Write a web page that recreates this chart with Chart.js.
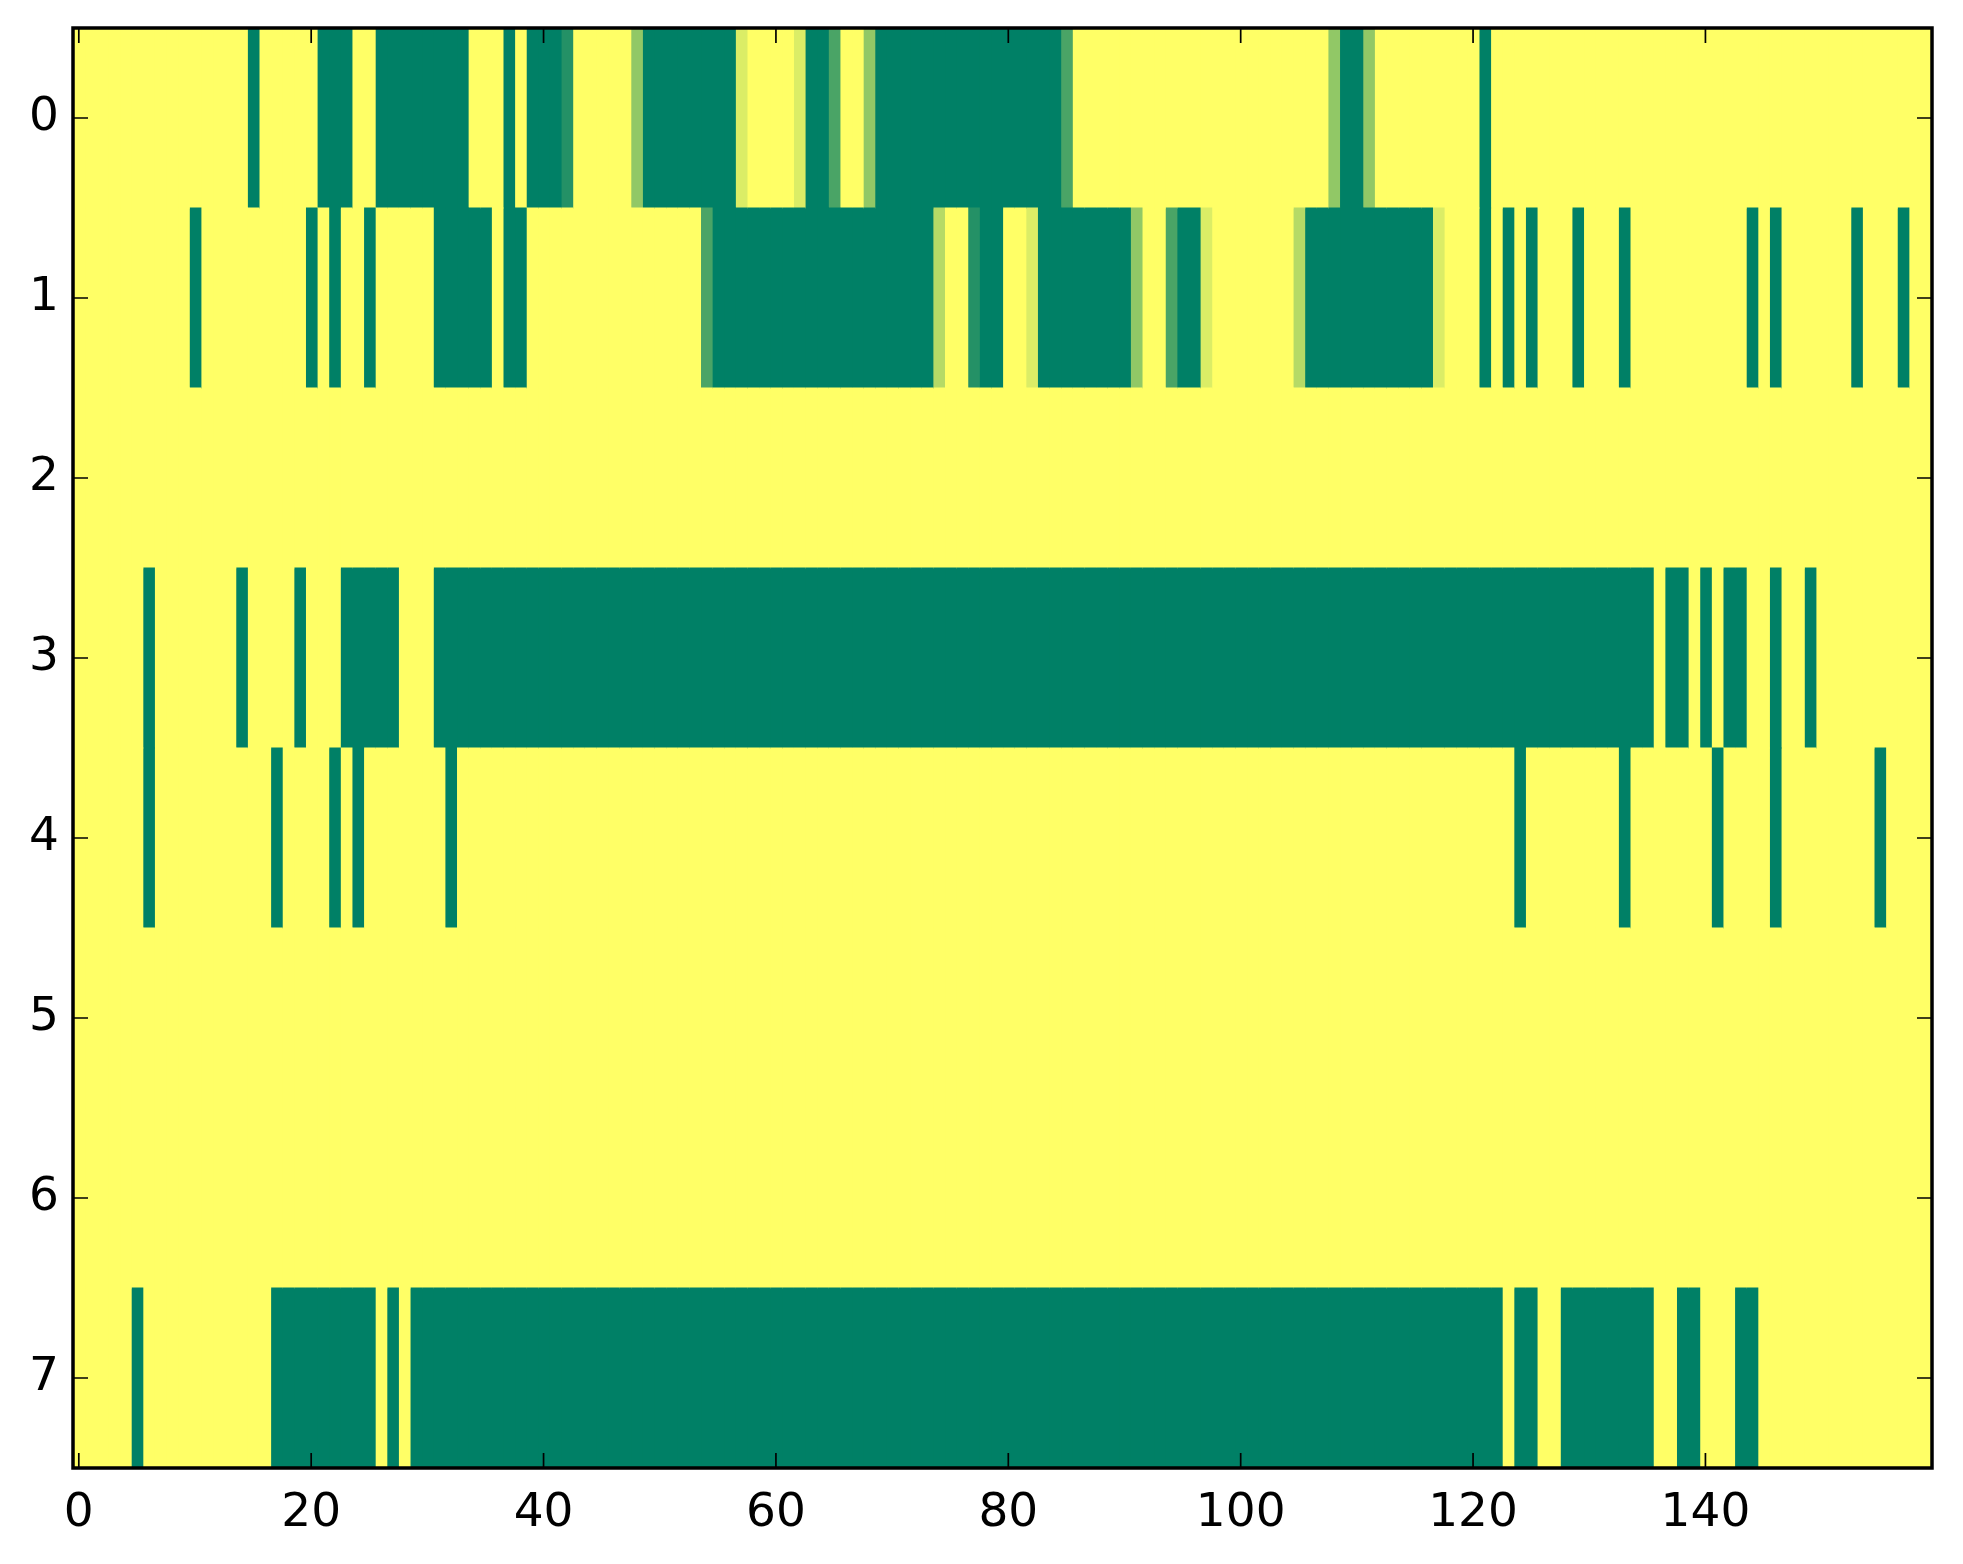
<!DOCTYPE html>
<html>
<head>
<meta charset="utf-8">
<title>Heatmap</title>
<script src="https://cdn.jsdelivr.net/npm/chart.js@4.4.1/dist/chart.umd.min.js"></script>
<style>
  html, body { margin: 0; padding: 0; background: #fff; }
  #wrap { width: 1963px; height: 1564px; }
</style>
</head>
<body>
<div id="wrap"><canvas id="heat" width="1963" height="1564"></canvas></div>
<script>
// row labels (top to bottom) and x tick labels
var rowLabels = ['0', '1', '2', '3', '4', '5', '6', '7'];
var xTicks = [0, 20, 40, 60, 80, 100, 120, 140];

// cell values per row, 160 columns each (0 = green, 1 = yellow)
var row0 = [
    1,1,1,1,1, 1,1,1,1,1, 1,1,1,1,1, 0,1,1,1,1,
    1,0,0,0,1, 1,0,0,0,0, 0,0,0,0,1, 1,1,0,1,0,
    0,0,0.14,1,1, 1,1,1,0.57,0, 0,0,0,0,0, 0,0,0.86,1,1,
    1,1,0.86,0,0, 0.29,1,1,0.57,0, 0,0,0,0,0, 0,0,0,0,0,
    0,0,0,0,0, 0.29,1,1,1,1, 1,1,1,1,1, 1,1,1,1,1,
    1,1,1,1,1, 1,1,1,0.57,0, 0,0.57,1,1,1, 1,1,1,1,1,
    1,0,1,1,1, 1,1,1,1,1, 1,1,1,1,1, 1,1,1,1,1,
    1,1,1,1,1, 1,1,1,1,1, 1,1,1,1,1, 1,1,1,1,1
];
var row1 = [
    1,1,1,1,1, 1,1,1,1,1, 0,1,1,1,1, 1,1,1,1,1,
    0,1,0,1,1, 0,1,1,1,1, 1,0,0,0,0, 0,1,0,0,1,
    1,1,1,1,1, 1,1,1,1,1, 1,1,1,1,0.29, 0,0,0,0,0,
    0,0,0,0,0, 0,0,0,0,0, 0,0,0,0,0.71, 1,1,0.14,0,0,
    1,1,0.86,0,0, 0,0,0,0,0, 0,0.57,1,1,0.29, 0,0,0.86,1,1,
    1,1,1,1,1, 0.71,0,0,0,0, 0,0,0,0,0, 0,0,0.86,1,1,
    1,0,1,0,1, 0,1,1,1,0, 1,1,1,0,1, 1,1,1,1,1,
    1,1,1,1,0, 1,0,1,1,1, 1,1,1,0,1, 1,1,0,1,1
];
var row2 = [
    1,1,1,1,1, 1,1,1,1,1, 1,1,1,1,1, 1,1,1,1,1,
    1,1,1,1,1, 1,1,1,1,1, 1,1,1,1,1, 1,1,1,1,1,
    1,1,1,1,1, 1,1,1,1,1, 1,1,1,1,1, 1,1,1,1,1,
    1,1,1,1,1, 1,1,1,1,1, 1,1,1,1,1, 1,1,1,1,1,
    1,1,1,1,1, 1,1,1,1,1, 1,1,1,1,1, 1,1,1,1,1,
    1,1,1,1,1, 1,1,1,1,1, 1,1,1,1,1, 1,1,1,1,1,
    1,1,1,1,1, 1,1,1,1,1, 1,1,1,1,1, 1,1,1,1,1,
    1,1,1,1,1, 1,1,1,1,1, 1,1,1,1,1, 1,1,1,1,1
];
var row3 = [
    1,1,1,1,1, 1,0,1,1,1, 1,1,1,1,0, 1,1,1,1,0,
    1,1,1,0,0, 0,0,0,1,1, 1,0,0,0,0, 0,0,0,0,0,
    0,0,0,0,0, 0,0,0,0,0, 0,0,0,0,0, 0,0,0,0,0,
    0,0,0,0,0, 0,0,0,0,0, 0,0,0,0,0, 0,0,0,0,0,
    0,0,0,0,0, 0,0,0,0,0, 0,0,0,0,0, 0,0,0,0,0,
    0,0,0,0,0, 0,0,0,0,0, 0,0,0,0,0, 0,0,0,0,0,
    0,0,0,0,0, 0,0,0,0,0, 0,0,0,0,0, 0,1,0,0,1,
    0,1,0,0,1, 1,0,1,1,0, 1,1,1,1,1, 1,1,1,1,1
];
var row4 = [
    1,1,1,1,1, 1,0,1,1,1, 1,1,1,1,1, 1,1,0,1,1,
    1,1,0,1,0, 1,1,1,1,1, 1,1,0,1,1, 1,1,1,1,1,
    1,1,1,1,1, 1,1,1,1,1, 1,1,1,1,1, 1,1,1,1,1,
    1,1,1,1,1, 1,1,1,1,1, 1,1,1,1,1, 1,1,1,1,1,
    1,1,1,1,1, 1,1,1,1,1, 1,1,1,1,1, 1,1,1,1,1,
    1,1,1,1,1, 1,1,1,1,1, 1,1,1,1,1, 1,1,1,1,1,
    1,1,1,1,0, 1,1,1,1,1, 1,1,1,0,1, 1,1,1,1,1,
    1,0,1,1,1, 1,0,1,1,1, 1,1,1,1,1, 0,1,1,1,1
];
var row5 = row2.slice();
var row6 = row2.slice();
var row7 = [
    1,1,1,1,1, 0,1,1,1,1, 1,1,1,1,1, 1,1,0,0,0,
    0,0,0,0,0, 0,1,0,1,0, 0,0,0,0,0, 0,0,0,0,0,
    0,0,0,0,0, 0,0,0,0,0, 0,0,0,0,0, 0,0,0,0,0,
    0,0,0,0,0, 0,0,0,0,0, 0,0,0,0,0, 0,0,0,0,0,
    0,0,0,0,0, 0,0,0,0,0, 0,0,0,0,0, 0,0,0,0,0,
    0,0,0,0,0, 0,0,0,0,0, 0,0,0,0,0, 0,0,0,0,0,
    0,0,0,1,0, 0,1,1,0,0, 0,0,0,0,0, 0,1,1,0,0,
    1,1,1,0,0, 1,1,1,1,1, 1,1,1,1,1, 1,1,1,1,1
];

var rows = [row0, row1, row2, row3, row4, row5, row6, row7];

// matplotlib "summer" colormap
function summer(v) {
    var r = Math.round(255 * v);
    var g = Math.round(127.5 + 127.5 * v);
    return 'rgb(' + r + ',' + g + ',102)';
}

// one floating-bar dataset per column, one bar per row
var datasets = [];
for (var c = 0; c < row0.length; c++) {
    datasets.push({
        data: rows.map(function () { return [c - 0.5, c + 0.5]; }),
        backgroundColor: rows.map(function (r) { return summer(r[c]); }),
        borderWidth: 0,
        inflateAmount: 0.6,
        grouped: false,
        barPercentage: 1,
        categoryPercentage: 1
    });
}

var tickFont = { family: 'DejaVu Sans', size: 47 };

// inside tick marks on all four sides plus the black frame
var frameTicks = {
    id: 'frameTicks',
    afterDraw: function (chart) {
        var ctx = chart.ctx;
        var a = chart.chartArea;
        var x = chart.scales.x, y = chart.scales.y;
        ctx.save();
        ctx.strokeStyle = '#000';
        ctx.lineWidth = 1.7;
        ctx.beginPath();
        x.ticks.forEach(function (t, i) {
            var px = x.getPixelForTick(i);
            ctx.moveTo(px, a.bottom); ctx.lineTo(px, a.bottom - 15);
            ctx.moveTo(px, a.top); ctx.lineTo(px, a.top + 15);
        });
        y.ticks.forEach(function (t, i) {
            var py = y.getPixelForTick(i);
            ctx.moveTo(a.left, py); ctx.lineTo(a.left + 15, py);
            ctx.moveTo(a.right, py); ctx.lineTo(a.right - 15, py);
        });
        ctx.stroke();
        ctx.lineWidth = 3.5;
        ctx.strokeRect(a.left, a.top, a.right - a.left, a.bottom - a.top);
        ctx.restore();
    }
};

new Chart(document.getElementById('heat').getContext('2d'), {
    type: 'bar',
    data: { labels: rowLabels, datasets: datasets },
    options: {
        responsive: false,
        animation: false,
        devicePixelRatio: 1,
        indexAxis: 'y',
        layout: { padding: { top: 28, right: 31, left: 0, bottom: 0 } },
        plugins: {
            legend: { display: false },
            tooltip: { enabled: false }
        },
        scales: {
            x: {
                type: 'linear',
                position: 'bottom',
                min: -0.5,
                max: 159.5,
                grid: { display: false },
                border: { display: false },
                ticks: { font: tickFont, color: '#000', padding: 10, maxRotation: 0 },
                afterBuildTicks: function (s) {
                    s.ticks = xTicks.map(function (v) { return { value: v }; });
                },
                afterFit: function (s) {
                    s.height = 96;
                    s.paddingLeft = 0;
                    s.paddingRight = 0;
                }
            },
            y: {
                type: 'category',
                labels: rowLabels,
                offset: true,
                grid: { display: false },
                border: { display: false },
                ticks: { font: tickFont, color: '#000', padding: 6 },
                afterFit: function (s) {
                    s.width = 73;
                    s.paddingTop = 0;
                    s.paddingBottom = 0;
                }
            }
        }
    },
    plugins: [frameTicks]
});
</script>
</body>
</html>
